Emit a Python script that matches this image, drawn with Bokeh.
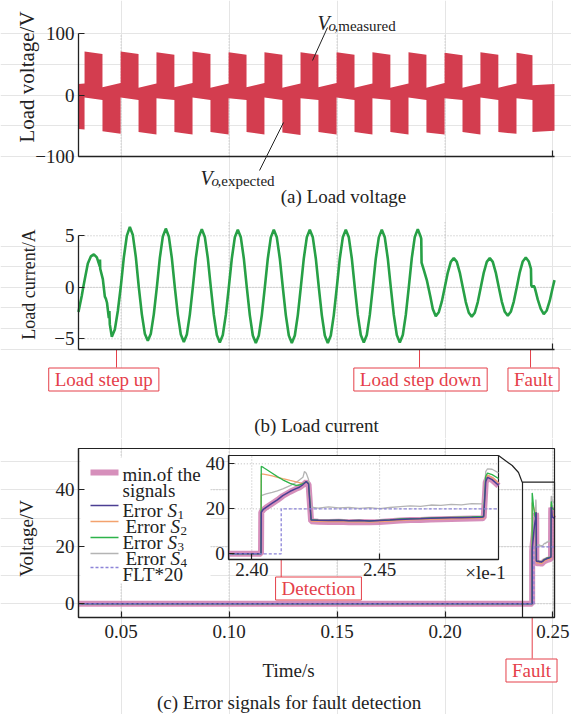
import math
from bokeh.plotting import figure
from bokeh.models import (Range1d, LinearAxis, FixedTicker, Label,
                          NumeralTickFormatter, CustomJSTickFormatter)
from bokeh.layouts import column
from bokeh.embed import file_html
from bokeh.resources import INLINE

# ---------------------------------------------------------------- data
# (a) load voltage: PWM band, one entry per half-cycle block (edges in s, band limits in V)
va_edges = [0.0303, 0.0331, 0.0414, 0.0498, 0.0581, 0.0664, 0.0747, 0.0831, 0.0914,
            0.0998, 0.1081, 0.1164, 0.1247, 0.1331, 0.1414, 0.1498, 0.1581, 0.1664,
            0.1747, 0.1831, 0.1914, 0.1998, 0.2081, 0.2164, 0.2247, 0.2331, 0.2405, 0.2507]
va_top_start = [18, 71, 13, 71, 12, 70, 13, 71, 12, 70, 13, 70, 12, 70,
                13, 70, 12, 70, 12, 70, 12, 69, 12, 70, 12, 69, 16]
va_top_end = [19, 67, 20, 67, 19, 66, 20, 67, 19, 66, 20, 66, 19, 66,
              20, 66, 19, 66, 19, 66, 20, 65, 19, 66, 19, 65, 18]
va_bot_start = [-55, -4, -59, -4, -60, -5, -60, -4, -60, -5, -60, -4, -61, -5,
                -60, -4, -60, -5, -60, -4, -61, -5, -60, -4, -60, -5, -60]
va_bot_end = [-56, -8, -63, -8, -64, -8, -64, -8, -64, -8, -64, -8, -65, -8,
              -64, -8, -64, -8, -64, -8, -64, -8, -64, -8, -63, -8, -58]

# (b) load current (s, A)
cur_t = [0.0303, 0.03046, 0.03184, 0.03250, 0.03323, 0.03462, 0.03601, 0.03740, 0.03879,
         0.04018, 0.04025, 0.04035, 0.04157, 0.04250, 0.04296, 0.04350, 0.04434, 0.04460,
         0.04480, 0.04573, 0.04712, 0.04851, 0.04990, 0.05129, 0.05268, 0.05407,
         0.05546, 0.05685, 0.05823, 0.05962, 0.06101, 0.06240, 0.06379, 0.06518, 0.06657,
         0.06796, 0.06935, 0.07073, 0.07212, 0.07351, 0.07490, 0.07629, 0.07768, 0.07907,
         0.08046, 0.08185, 0.08323, 0.08462, 0.08601, 0.08740, 0.08879, 0.09018, 0.09157,
         0.09296, 0.09435, 0.09573, 0.09712, 0.09851, 0.09990, 0.10129, 0.10268, 0.10407,
         0.10546, 0.10685, 0.10823, 0.10962, 0.11101, 0.11240, 0.11379, 0.11518, 0.11657,
         0.11796, 0.11935, 0.12073, 0.12212, 0.12351, 0.12490, 0.12629, 0.12768, 0.12907,
         0.13046, 0.13185, 0.13323, 0.13462, 0.13601, 0.13740, 0.13879, 0.14018, 0.14157,
         0.14296, 0.14435, 0.14573, 0.14712, 0.14851, 0.14990, 0.15129, 0.15268, 0.15407,
         0.15546, 0.15685, 0.15823, 0.15962, 0.16101, 0.16240, 0.16379, 0.16518, 0.16657,
         0.16796, 0.16935, 0.17073, 0.17212, 0.17351, 0.17490, 0.17629, 0.17768, 0.17907,
         0.18046, 0.18185, 0.18323, 0.18462, 0.18601, 0.18740, 0.18879, 0.18900, 0.18915,
         0.19018, 0.19157, 0.19330, 0.19435, 0.19573, 0.19712, 0.19851, 0.19990, 0.20129,
         0.20268, 0.20407, 0.20546, 0.20685, 0.20823, 0.20962, 0.21101, 0.21240, 0.21379,
         0.21518, 0.21657, 0.21796, 0.21935, 0.22073, 0.22212, 0.22351, 0.22490, 0.22629,
         0.22768, 0.22907, 0.23046, 0.23185, 0.23323, 0.23462, 0.23601, 0.23740, 0.23879,
         0.23980, 0.23995, 0.24050, 0.24100, 0.24150, 0.24200, 0.24296, 0.24434, 0.24573,
         0.24712, 0.24851, 0.24990, 0.25070]
cur_i = [-2.4, -2.2, -0.8, 0.0, 0.8, 2.3, 3.0, 3.2, 2.9,
         2.0, 2.7, 1.8, 0.8, -0.9, -1.1, -1.5, -3.0, -2.3,
         -3.6, -4.8, -4.1, -2.3, 0.1, 2.9, 5.0, 5.85,
         5.07, 2.93, 0.0, -2.6, -4.5, -5.2, -4.5, -2.6, 0.0,
         2.85, 4.94, 5.7, 4.94, 2.85, 0.0, -2.65, -4.59, -5.3,
         -4.59, -2.65, 0.0, 2.83, 4.89, 5.65, 4.89, 2.83, 0.0,
         -2.68, -4.63, -5.35, -4.63, -2.68, 0.0, 2.8, 4.85, 5.6,
         4.85, 2.8, 0.0, -2.7, -4.68, -5.4, -4.68, -2.7, 0.0,
         2.8, 4.85, 5.6, 4.85, 2.8, 0.0, -2.7, -4.68, -5.4,
         -4.68, -2.7, 0.0, 2.8, 4.85, 5.6, 4.85, 2.8, 0.0,
         -2.7, -4.68, -5.4, -4.68, -2.7, 0.0, 2.8, 4.85, 5.6,
         4.85, 2.8, 0.0, -2.68, -4.63, -5.35, -4.63, -2.68, 0.0,
         2.8, 4.85, 5.6, 4.85, 2.8, 0.0, -2.68, -4.63, -5.35,
         -4.63, -2.68, 0.0, 2.83, 4.89, 5.65, 4.89, 4.7, 2.4,
         1.7, 0.7, -1.0, -2.1, -2.8, -2.42, -1.4, 0.0, 1.43,
         2.47, 2.85, 2.47, 1.43, 0.0, -1.43, -2.47, -2.85, -2.47,
         -1.43, 0.0, 1.43, 2.47, 2.85, 2.47, 1.43, 0.0, -1.38,
         -2.38, -2.75, -2.38, -1.38, 0.0, 1.45, 2.51, 2.9, 2.51,
         1.8, 0.2, 0.0, 0.15, 0.0, -0.4, -1.2, -2.1, -2.6,
         -2.25, -1.3, 0.0, 0.7]

# (c) error signals (s, V)
err_t = [0.0303, 0.2391, 0.24036, 0.24037, 0.24045, 0.24056, 0.2408, 0.2410, 0.24121,
         0.2415, 0.24173, 0.24186, 0.24200, 0.24206, 0.24213, 0.24222, 0.24232,
         0.2426, 0.2430, 0.2434, 0.2438, 0.2442, 0.2446, 0.2450, 0.2454, 0.2458,
         0.2462, 0.2466, 0.2470, 0.2474, 0.2478, 0.2482, 0.2486, 0.24900, 0.24907,
         0.24915, 0.24922, 0.24940, 0.24965, 0.2507]
err_s1 = [0, 0, 0, 18.5, 19.8, 20.7, 22.5, 24.0, 25.9,
          27.8, 29.0, 29.6, 30.8, 31.4, 32.1, 31.0, 15.0,
          14.9, 14.8, 14.9, 14.7, 14.8, 14.6, 14.8, 15.0, 15.3,
          15.5, 15.6, 15.8, 15.9, 16.0, 16.1, 16.2, 16.3, 16.5,
          32.0, 34.0, 33.0, 30.5, 30.0]
err_s2 = [0, 0, 0, 35.5, 35.4, 35.2, 34.6, 34.0, 33.4,
          32.6, 32.0, 31.6, 31.1, 31.5, 32.0, 31.2, 14.6,
          14.4, 14.3, 14.4, 14.2, 14.3, 14.1, 14.3, 14.6, 14.9,
          15.1, 15.2, 15.4, 15.5, 15.6, 15.7, 15.8, 15.9, 16.0,
          33.5, 35.0, 34.0, 31.5, 31.0]
err_s3 = [0, 0, 0, 38.9, 38.4, 37.6, 35.8, 34.3, 32.9,
          31.3, 30.4, 30.6, 31.2, 31.6, 32.1, 31.3, 15.2,
          15.0, 14.9, 15.0, 14.8, 14.9, 14.7, 14.9, 15.1, 15.5,
          15.7, 15.8, 16.0, 16.1, 16.2, 16.3, 16.4, 16.6, 16.8,
          34.5, 35.9, 35.2, 33.5, 33.0]
err_s4 = [0, 0, 0, 25.9, 26.2, 26.6, 27.3, 28.0, 28.9,
          30.3, 31.7, 32.8, 34.0, 36.6, 35.8, 33.0, 20.8,
          20.3, 20.9, 20.4, 20.7, 20.2, 20.5, 20.1, 20.6, 21.0,
          21.3, 21.1, 21.7, 21.5, 22.0, 21.8, 22.3, 22.2, 22.5,
          36.5, 37.8, 37.6, 36.0, 35.5]
err_min = [0, 0, 0, 18.5, 19.6, 20.6, 22.4, 23.9, 25.7,
           27.6, 28.9, 29.5, 30.6, 31.2, 31.9, 30.8, 14.5,
           14.3, 14.2, 14.3, 14.1, 14.2, 14.0, 14.2, 14.5, 14.8,
           15.0, 15.1, 15.3, 15.4, 15.5, 15.6, 15.7, 15.8, 16.0,
           31.8, 33.8, 32.8, 30.3, 29.8]
flt_t = [0.0303, 0.2391, 0.24115, 0.24115, 0.24965, 0.2507]
flt_v = [0, 0, 0, 20, 20, 20]

# tick / event values
grid_t = [0.05, 0.10, 0.15, 0.20]
c_xticks = [0.05, 0.10, 0.15, 0.20, 0.25]
a_yticks = [-100, 0, 100]
b_yticks = [-5, 0, 5]
c_yticks = [0, 20, 40]
inset_xticks = [0.2400, 0.2450]
inset_yticks = [0, 20, 40]
t_step_up, t_step_down, t_fault_b = 0.0479, 0.1882, 0.2396
t_fault_c, t_detect = 0.24037, 0.24115

# ---------------------------------------------------------------- style / layout
FONT = "Liberation Serif"
INK = "#222222"
RED = "#e5404a"
BAND = "#d33d4f"
GREEN = "#27a046"
GRID = "#b8b8b8"
MIN_C, S1_C, S2_C, S3_C, S4_C, FLT_C = "#c4609e", "#4b3f93", "#f3a26e", "#2db34a", "#b4b4b4", "#8c84d8"
FS = "19px"
FIG_W = 571
X0, X1 = 0.0303, 0.2507          # time axis limits
PX_X0, PX_X1 = 78.0, 554.0       # their pixel positions


class Map:
    """pixel (page) <-> data mapping of one figure whose frame fills the canvas"""

    def __init__(self, top, h, va, pa, vb, pb, xa=X0, qa=PX_X0, xb=X1, qb=PX_X1):
        self.top, self.h = top, h
        self.va, self.pa, self.ky = va, pa, (va - vb) / (pb - pa)
        self.xa, self.qa, self.kx = xa, qa, (xb - xa) / (qb - qa)

    def x(self, px):
        return self.xa + (px - self.qa) * self.kx

    def y(self, py):
        return self.va + (self.pa - py) * self.ky

    def xrange(self):
        return Range1d(self.x(0), self.x(FIG_W))

    def yrange(self):
        return Range1d(self.y(self.top + self.h), self.y(self.top))


def new_fig(m):
    p = figure(width=FIG_W, height=m.h, x_range=m.xrange(), y_range=m.yrange(),
               output_backend="svg", toolbar_location=None, title=None,
               x_axis_location=None, y_axis_location=None, min_border=0)
    p.outline_line_color = None
    p.background_fill_color = "white"
    p.border_fill_color = "white"
    return p


def style_axis(ax, size=FS):
    ax.axis_line_color = INK
    ax.axis_line_width = 1.3
    ax.major_tick_line_color = INK
    ax.major_tick_line_width = 1.2
    ax.major_tick_in = 6
    ax.major_tick_out = 0
    ax.minor_tick_line_color = None
    ax.major_label_text_font = FONT
    ax.major_label_text_font_size = size
    ax.major_label_text_color = INK
    ax.major_label_standoff = 4


def add_axes(p, y0, y1, yticks, xticks, yfmt=None, xfmt=None, xstand=4, **rng):
    kl = dict(fixed_location=rng.get("xloc", X0), bounds=(y0, y1), ticker=FixedTicker(ticks=yticks))
    kb = dict(fixed_location=y0, bounds=rng.get("xb", (X0, X1)), ticker=FixedTicker(ticks=xticks))
    if yfmt is not None:
        kl["formatter"] = yfmt
    if xfmt is not None:
        kb["formatter"] = xfmt
    names = {k: v for k, v in rng.items() if k in ("x_range_name", "y_range_name")}
    ax_l = LinearAxis(**kl, **names)
    ax_b = LinearAxis(**kb, **names)
    style_axis(ax_l)
    style_axis(ax_b)
    ax_b.major_label_standoff = xstand
    p.add_layout(ax_l, "left")
    p.add_layout(ax_b, "below")


def grid_v(p, ticks, y0, y1, **kw):
    p.segment(x0=ticks, y0=[y0] * len(ticks), x1=ticks, y1=[y1] * len(ticks),
              line_color=GRID, line_dash="1 2", line_width=1, **kw)


def grid_h(p, ticks, x0, x1, **kw):
    p.segment(x0=[x0] * len(ticks), y0=ticks, x1=[x1] * len(ticks), y1=ticks,
              line_color=GRID, line_dash="1 2", line_width=1, **kw)


def txt(p, x, y, text, size=FS, color=INK, style="normal", align="center",
        baseline="middle", **kw):
    lab = Label(x=x, y=y, text=text, text_font=FONT, text_font_size=size,
                text_color=color, text_font_style=style, text_align=align,
                text_baseline=baseline, **kw)
    p.add_layout(lab)
    return lab


def boxed(p, x, y, text, **kw):
    return txt(p, x, y, text, color=RED, background_fill_color="white",
               border_line_color=RED, border_line_width=1,
               padding=dict(left=6, right=6, top=1, bottom=1), **kw)


def seg(p, x0, y0, x1, y1, color=RED, width=1, **kw):
    p.segment(x0=[x0], y0=[y0], x1=[x1], y1=[y1], line_color=color, line_width=width, **kw)


minus_fmt = CustomJSTickFormatter(code="return tick < 0 ? '\u2212' + Math.abs(tick) : '' + tick;")
blank_fmt = CustomJSTickFormatter(code="return '';")

# ---------------------------------------------------------------- (a)
ma = Map(0, 212, 100, 33.3, -100, 156.0)
p_a = new_fig(ma)
grid_v(p_a, grid_t, -100, 100)
band_x, band_lo, band_hi = [], [], []
for i in range(len(va_edges) - 1):
    band_x += [va_edges[i], va_edges[i + 1]]
    band_lo += [va_bot_start[i], va_bot_end[i]]
    band_hi += [va_top_start[i], va_top_end[i]]
p_a.varea(x=band_x, y1=band_lo, y2=band_hi, fill_color=BAND)
add_axes(p_a, -100, 100, a_yticks, [0.25], yfmt=minus_fmt, xfmt=blank_fmt)

for (px, base, sub) in [(317, 22, ",measured"), (200, 177, ",expected")]:
    txt(p_a, ma.x(px), ma.y(base), "V", size="20px", style="italic", align="left",
        baseline="alphabetic")
    txt(p_a, ma.x(px), ma.y(base), "o", size="15px", style="italic", align="left",
        baseline="alphabetic", x_offset=11, y_offset=-3)
    txt(p_a, ma.x(px), ma.y(base), sub, size="15px", align="left",
        baseline="alphabetic", x_offset=17, y_offset=-3)
seg(p_a, ma.x(312), ma.y(60), ma.x(327), ma.y(27), color=INK)
seg(p_a, ma.x(283), ma.y(122), ma.x(259), ma.y(170), color=INK)
txt(p_a, ma.x(26.5), ma.y(76.5), "Load voltage/V", size="21px", angle=math.pi / 2)
txt(p_a, ma.x(343), ma.y(196), "(a) Load voltage")

# ---------------------------------------------------------------- (b)
mb = Map(212, 226, 5, 235.3, -5, 338.3)
p_b = new_fig(mb)
b_bot, b_top = mb.y(348.8), mb.y(221.8)
grid_v(p_b, grid_t, b_bot, b_top)
grid_h(p_b, b_yticks, X0, X1)
p_b.line(cur_t, cur_i, line_color=GREEN, line_width=2.6)
add_axes(p_b, b_bot, 5, b_yticks, [0.25], yfmt=minus_fmt, xfmt=blank_fmt)

for (tl, bx, label) in [(t_step_up, 103.3, "Load step up"),
                        (t_step_down, 420, "Load step down"),
                        (t_fault_b, 533, "Fault")]:
    seg(p_b, tl, b_bot, tl, mb.y(367))
    boxed(p_b, mb.x(bx), mb.y(379), label)
txt(p_b, mb.x(28), mb.y(284), "Load current/A", size="18px", angle=math.pi / 2)
txt(p_b, mb.x(316), mb.y(425), "(b) Load current")

# ---------------------------------------------------------------- (c)
mc = Map(438, 276, 40, 489.3, 0, 603.3)
IN_L, IN_R, IN_T, IN_B = 228.3, 498.0, 455.0, 559.0
ix0, ix1, iy0, iy1 = 0.2391, 0.24965, -2.5, 43.7
mi = Map(438, 276, iy1, IN_T, iy0, IN_B, xa=ix0, qa=IN_L, xb=ix1, qb=IN_R)
p_c = new_fig(mc)
p_c.extra_x_ranges = {"ix": mi.xrange()}
p_c.extra_y_ranges = {"iy": mi.yrange()}
c_bot, c_top = mc.y(617), mc.y(448)
IN = dict(x_range_name="ix", y_range_name="iy")

grid_v(p_c, c_xticks, c_bot, c_top)
grid_h(p_c, c_yticks, X0, X1)
p_c.quad(left=[X0], right=[X1], bottom=[c_bot], top=[c_top], fill_color=None,
         line_color=INK, line_width=1.2)

series = [(err_min, MIN_C, 6, 0.7), (err_s4, S4_C, 1.3, 1.0), (err_s2, S2_C, 1.3, 1.0),
          (err_s3, S3_C, 1.3, 1.0), (err_s1, S1_C, 1.5, 1.0)]
for vals, col, lw, al in series:
    p_c.line(err_t, vals, line_color=col, line_width=lw, line_alpha=al)
p_c.line(flt_t, flt_v, line_color=FLT_C, line_width=1.3, line_dash="3 2")

# zoom box and connector
p_c.quad(left=[mc.x(522)], right=[X1], bottom=[c_bot], top=[mc.y(481.7)],
         fill_color=None, line_color=INK, line_width=1.2)
p_c.line([mc.x(q) for q in (IN_R, 511.7, 518.0, 521.7)],
         [mc.y(q) for q in (IN_T, 465.0, 472.0, 481.7)], line_color=INK, line_width=1.2)

# inset
p_c.quad(left=[ix0], right=[ix1], bottom=[iy0], top=[iy1], fill_color="white",
         line_color=INK, line_width=1.2, **IN)
grid_v(p_c, inset_xticks, iy0, iy1, **IN)
grid_h(p_c, inset_yticks[1:], ix0, ix1, **IN)
idx = [i for i, t in enumerate(err_t) if ix0 - 1e-9 <= t <= ix1 + 1e-9]
fidx = [i for i, t in enumerate(flt_t) if ix0 - 1e-9 <= t <= ix1 + 1e-9]
for vals, col, lw, al in series:
    p_c.line([err_t[i] for i in idx], [vals[i] for i in idx], line_color=col,
             line_width=lw, line_alpha=al, **IN)
p_c.line([flt_t[i] for i in fidx], [flt_v[i] for i in fidx], line_color=FLT_C,
         line_width=1.3, line_dash="3 2", **IN)

add_axes(p_c, c_bot, c_top, c_yticks, c_xticks, xfmt=NumeralTickFormatter(format="0.00"),
         xstand=7)
add_axes(p_c, iy0, iy1, inset_yticks, inset_xticks,
         xfmt=CustomJSTickFormatter(code="return (tick*10).toFixed(2);"), xstand=3,
         xloc=ix0, xb=(ix0, ix1), **IN)

txt(p_c, mi.x(485), mi.y(572), "\u00d7le-1", **IN)
seg(p_c, t_detect, iy0, t_detect, mi.y(578), **IN)
boxed(p_c, mi.x(318), mi.y(588), "Detection", **IN)
seg(p_c, t_fault_c, c_bot, t_fault_c, mc.y(658))
boxed(p_c, mc.x(531), mc.y(670), "Fault")
txt(p_c, mc.x(288), mc.y(670), "Time/s")
txt(p_c, mc.x(288.6), mc.y(702), "(c) Error signals for fault detection")
txt(p_c, mc.x(26), mc.y(538), "Voltage/V", angle=math.pi / 2)

# legend (drawn by hand so that rows match the compact original)
p_c.quad(left=[mc.x(80)], right=[mc.x(210)], bottom=[mc.y(583)], top=[mc.y(457)],
         fill_color="white", line_color=None)
leg = [  # (line y, colour, width, alpha, dash, text x, text centre y, text, subscript)
    (472, MIN_C, 6, 0.7, "solid", 122, 468, "min.of the", None),
    (472, None, 0, 0, "solid", 122, 484, "signals", None),
    (505, S1_C, 1.5, 1.0, "solid", 122, 504, "Error ", "1"),
    (521, S2_C, 1.3, 1.0, "solid", 125, 520, "Error ", "2"),
    (537, S3_C, 1.3, 1.0, "solid", 122, 536, "Error ", "3"),
    (553, S4_C, 1.3, 1.0, "solid", 125, 552, "Error ", "4"),
    (567, FLT_C, 1.3, 1.0, "3 2", 122, 568, "FLT*20", None),
]
for ly, col, lw, al, dash, tx_, ty, text, sub in leg:
    if col is not None:
        p_c.segment(x0=[mc.x(90)], y0=[mc.y(ly)], x1=[mc.x(118)], y1=[mc.y(ly)],
                    line_color=col, line_width=lw, line_alpha=al, line_dash=dash)
    base = mc.y(ty + 6)
    txt(p_c, mc.x(tx_), base, text, align="left", baseline="alphabetic")
    if sub is not None:
        txt(p_c, mc.x(tx_), base, "S", style="italic", align="left", baseline="alphabetic",
            x_offset=45)
        txt(p_c, mc.x(tx_), base, sub, size="13px", align="left", baseline="alphabetic",
            x_offset=55, y_offset=-4)

layout = column(p_a, p_b, p_c, spacing=0)
open("out.html", "w").write(file_html(layout, INLINE))
